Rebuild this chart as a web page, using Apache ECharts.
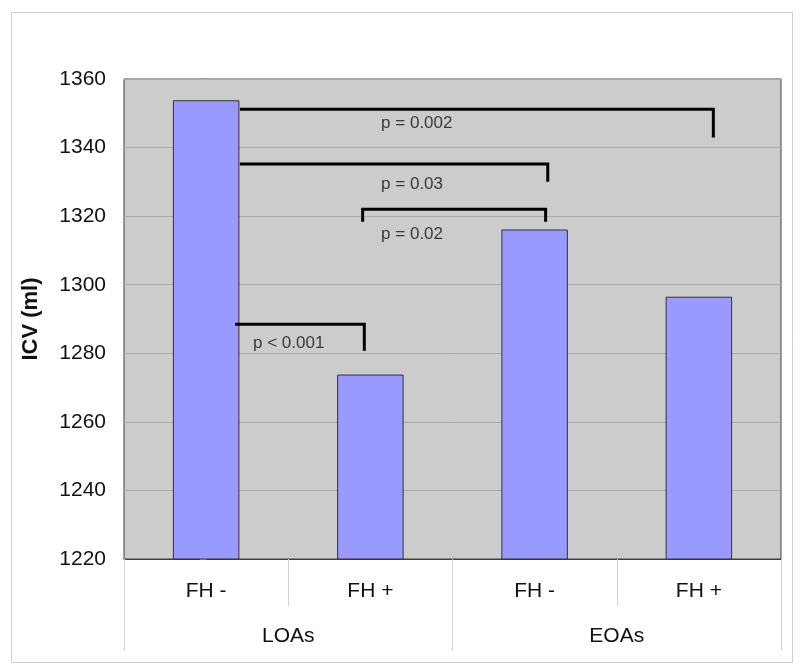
<!DOCTYPE html>
<html>
<head>
<meta charset="utf-8">
<script src="https://cdn.jsdelivr.net/npm/echarts@6/dist/echarts.min.js"></script>
<style>html,body{margin:0;padding:0;background:#fff;}#c{width:800px;height:672px;}</style>
</head>
<body>
<div id="c"></div>
<script>
// ---- data ----
const categories = ['FH -', 'FH +', 'FH -', 'FH +'];
const groups = ['LOAs', 'EOAs'];
const icvValues = [1353.8, 1273.8, 1316.1, 1296.5];
const yMin = 1220, yMax = 1360, yStep = 20;
const yAxisName = 'ICV (ml)';
// significance brackets in data space (x = category index, y = ICV)
const bracket002 = [[0.215, 1351.2], [3.088, 1351.2], [3.088, 1343.4]];
const bracket003 = [[0.215, 1335.2], [2.08, 1335.2], [2.08, 1330.5]];
const bracket002b = [[0.953, 1318.8], [0.953, 1322.0], [2.067, 1322.0], [2.067, 1318.8]];
const bracket0001 = [[0.186, 1288.5], [0.963, 1288.5], [0.963, 1281.2]];
const pTexts = ['p = 0.002', 'p = 0.03', 'p = 0.02', 'p < 0.001'];
const pPos = [[1.065, 1347.1], [1.065, 1329.3], [1.065, 1314.7], [0.285, 1282.9]];

const FONT = '"Liberation Sans", Arial, sans-serif';
const chart = echarts.init(document.getElementById('c'), null, {renderer: 'canvas'});

function bracketSeries(d) {
  return {
    type: 'line', xAxisIndex: 2, yAxisIndex: 0, data: d,
    symbol: 'none', silent: true, z: 5,
    lineStyle: {color: '#000', width: 3, cap: 'square', join: 'miter'}
  };
}

chart.setOption({
  animation: false,
  backgroundColor: '#fff',
  textStyle: {fontFamily: FONT},
  graphic: [{
    type: 'rect', silent: true, z: -10,
    shape: {x: 11.5, y: 12.5, width: 781, height: 650},
    style: {fill: 'none', stroke: '#cfcfcf', lineWidth: 1}
  }],
  grid: {
    left: 124, right: 19, top: 79, bottom: 113,
    show: true, backgroundColor: '#cccccc', borderColor: '#404040', borderWidth: 1
  },
  xAxis: [{
    type: 'category', data: categories, position: 'bottom',
    axisLine: {show: true, lineStyle: {color: '#404040', width: 1}},
    axisTick: {show: true, interval: 0, length: 47, alignWithLabel: false, lineStyle: {color: '#d0d0d0'}},
    axisLabel: {fontSize: 21, color: '#111', margin: 22, fontFamily: FONT, interval: 0},
    splitLine: {show: false}
  }, {
    type: 'category', data: groups, position: 'bottom',
    axisLine: {show: false},
    axisTick: {show: true, interval: 0, length: 91, alignWithLabel: false, lineStyle: {color: '#d0d0d0'}},
    axisLabel: {fontSize: 21, color: '#111', margin: 67, fontFamily: FONT, interval: 0},
    splitLine: {show: false}
  }, {
    type: 'value', min: -0.5, max: 3.5, show: false
  }],
  yAxis: [{
    type: 'value', min: yMin, max: yMax, interval: yStep,
    name: yAxisName, nameLocation: 'middle', nameGap: 82, nameRotate: 90,
    nameMoveOverlap: false,
    nameTextStyle: {fontSize: 22, fontWeight: 'bold', color: '#111', fontFamily: FONT},
    axisLine: {show: false},
    axisTick: {show: true, length: 6, lineStyle: {color: '#b0b0b0'}},
    axisLabel: {fontSize: 21, color: '#111', margin: 18, fontFamily: FONT, formatter: v => String(v)},
    splitLine: {show: true, lineStyle: {color: '#aaaaaa', width: 1}}
  }],
  series: [{
    type: 'bar', xAxisIndex: 0, yAxisIndex: 0, data: icvValues,
    barWidth: '40.5%',
    itemStyle: {color: '#9999ff', borderColor: '#333', borderWidth: 1}
  },
  bracketSeries(bracket002),
  bracketSeries(bracket003),
  bracketSeries(bracket002b),
  bracketSeries(bracket0001),
  {
    type: 'scatter', xAxisIndex: 2, yAxisIndex: 0,
    data: pPos.map((p, i) => ({value: p, name: pTexts[i]})),
    symbolSize: 0.1, itemStyle: {color: 'rgba(0,0,0,0)'}, silent: true, z: 6,
    label: {
      show: true, position: 'right', distance: 0,
      formatter: p => p.name, fontSize: 17, color: '#111', fontFamily: FONT,
      align: 'left', verticalAlign: 'middle'
    }
  }]
});
</script>
</body>
</html>
